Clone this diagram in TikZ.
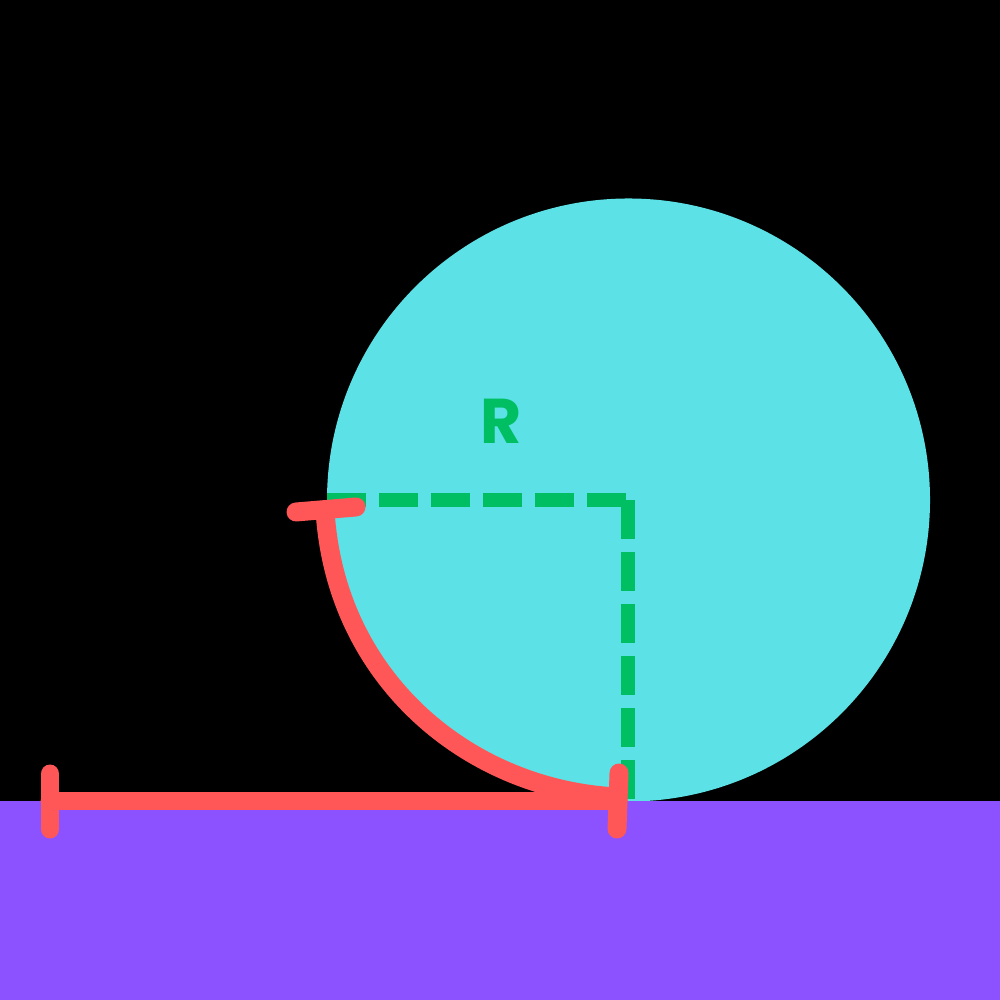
\documentclass[tikz,border=0pt]{standalone}
\usepackage{fontspec}
\setsansfont{Poppins}
\definecolor{bg}{HTML}{000000}
\definecolor{ground}{HTML}{8C52FF}
\definecolor{wheel}{HTML}{5CE1E6}
\definecolor{redline}{HTML}{FF5757}
\definecolor{greenline}{HTML}{00BF63}
\tikzset{
  redstroke/.style={draw=redline, line width=5.4pt, line cap=round, line join=round},
  greendash/.style={draw=greenline, line width=3.8pt, dash pattern=on 0.39cm off 0.13cm},
  lbl/.style={text=greenline, font=\sffamily\bfseries\fontsize{18}{18}\selectfont, inner sep=0pt}
}
\begin{document}
\begin{tikzpicture}
\useasboundingbox (0,0) rectangle (10,10);
\fill[bg] (0,0) rectangle (10,10);
\fill[wheel] (6.285,5.0) circle (3.015);
\fill[ground] (0,0) rectangle (10,1.99);
% radius
\coordinate (left) at (3.27,5.0);
\coordinate (center) at (6.28,5.0);
\coordinate (cornerH) at (6.26,5.0);
\coordinate (bottom) at (6.28,2.0);
\draw[greendash] (left) -- (cornerH);
\draw[greendash] (center) -- (bottom);
\node[lbl] (R) at (5.01,5.785) {R};
% distance line
\coordinate (a) at (0.5,1.99);
\coordinate (b) at (6.18,1.99);
\draw[redstroke] (a) -- (b);
\coordinate (a1) at (0.5,2.26);
\coordinate (a2) at (0.5,1.71);
\draw[redstroke] (a1) -- (a2);
\coordinate (b1) at (6.19,2.27);
\coordinate (b2) at (6.17,1.71);
\draw[redstroke] (b1) -- (b2);
% unrolled arc
\coordinate (cs) at (6.18,2.03);
\coordinate (ce) at (3.25,4.90);
\draw[redstroke] (cs) .. controls (4.70,2.10) and (3.35,3.20) .. (ce);
\coordinate (t1) at (2.96,4.88);
\coordinate (t2) at (3.56,4.93);
\draw[redstroke] (t1) -- (t2);
\end{tikzpicture}
\end{document}
